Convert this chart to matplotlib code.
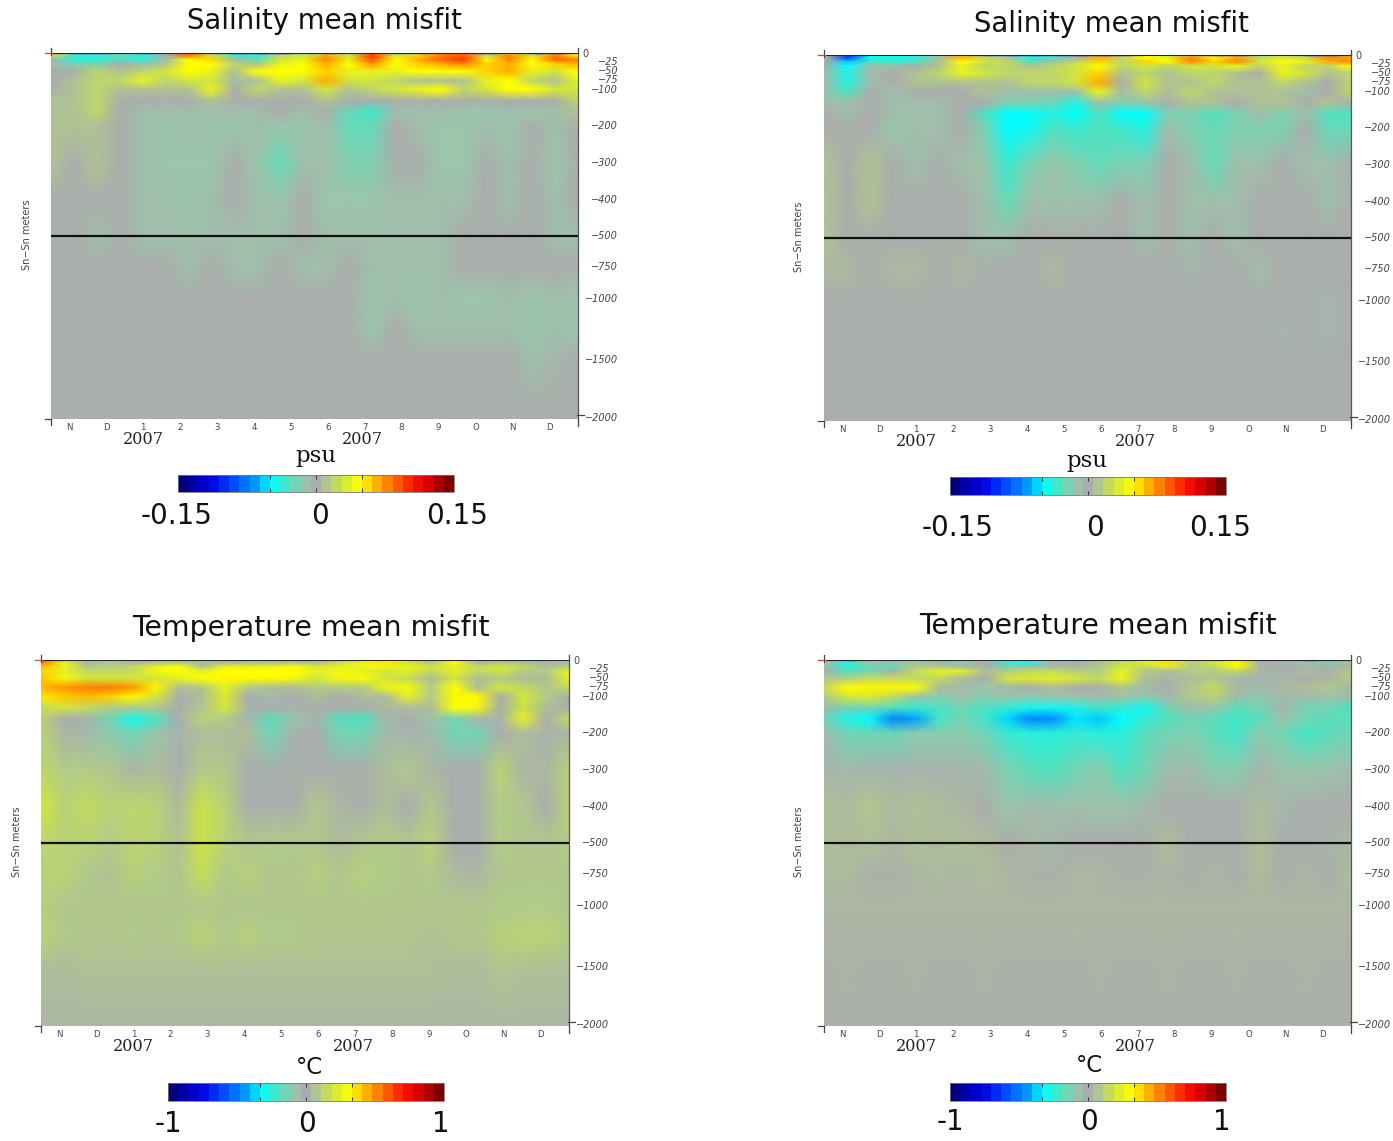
import matplotlib
matplotlib.use("Agg")
import matplotlib.pyplot as plt
import numpy as np
from matplotlib.cm import ScalarMappable
from matplotlib.colors import LinearSegmentedColormap, Normalize
from matplotlib.lines import Line2D

W, H = 1393, 1141

# Depth rows and tick labels
depth = [0, 6, 18, 30, 50, 75, 100, 130, 160, 200, 300, 400, 500, 750, 1000, 1250, 1500, 2020]
depth_ticks = [0, 25, 50, 75, 100, 200, 300, 400, 500, 750, 1000, 1500, 2000]
month_labels = ["N", "D", "1", "2", "3", "4", "5", "6", "7", "8", "9", "O", "N", "D"]

# Salinity misfit, left panel (0.01 psu)
sal_left = [
    [10, -9, -9, -6, -9, -6, 8, -8, -9, -11, -11, -5, -9, -5, 9, -6, -8, 10, 9, -9, 4, -9, -10, 3],
    [3, -3, -3, -2, -3, 0, 9, 3, -3, -3, 2, 3, 7, 3, 10, 3, 6, 8, 9, 2, 8, 3, 8, 5],
    [0, -4, -4, -3, -4, -1, 5, 6, -1, -3, 3, 4, 8, 4, 9.5, 5, 7, 9, 10, 5, 8, 5, 9, 8],
    [-1, -2, -2, 0, -1, 1, 5, 5, 2, 1, 4, 5, 7, 5, 7.5, 5, 6, 7, 8, 6, 7, 5, 6, 7],
    [0, 0, 2, 1, 2, 3, 5, 4, 1, 5, 5, 5, 6, 4, 4, 4, 5, 5, 5, 6, 7, 4, 3, 5],
    [0, 1, 2, 2, 4, 2, 3, 3, -1, 1, 4, 3, 7, 3, 3, 2, 1, 1, 1, 4, 5, 2, 1, 4],
    [0, 1, 2, 1, 1, 1, 1, 4, 0, 2, 1, 1, 3, 1, 2, 3, 4, 5, 2, 3, 5, 5, 3, 3],
    [1, 1, 2, 0, 0, 0, 0, 1, 0, 0, 0, 0, 1, 0, 0, 0, 0, 0, 0, 0, 0, 0, 0, 2],
    [1, 1, 2, 0, -1, -1, -1, -1, -1, -1, 0, -1, 0, -2.5, -3.5, -1, -1, -1, -1.5, -1.5, -1, -1.5, -1, 1],
    [1, 1, 1, 0, -1, -1.5, -1, -1.5, -1.5, -1, -1.5, -1.5, -1, -2.5, -2.5, 0, -1, -1.5, -1.5, -1, -1.5, 0, -1, 0],
    [1, 0, 1, 0, -1, -1.5, -1.5, -1.5, 0, -1.5, -2.5, -1, -1, -2, -2, 0, 0, -1.5, -1.5, 0, -1, 0, -1.5, 0],
    [0, 0, 0, 0, -1, -1, -1.5, -1, 0, -1, -1.5, 0, -1.5, -1.5, -1.5, -1, -1, -1, -1, 0, -1, 0, -1, 0],
    [0, 0, -1, 0, -1, -1, -1, -1, -1, -1, -1, 0, -1, -1, -1, -1, -1, -1, 0, 0, 0, 0, -1, -1],
    [0, 0, 0, 0, 0, 0, -1, 0, -1, -1, 0, -1, -1, 0, -1, -1, -1, -1, 0, 0, 0, 0, 0, 0],
    [0, 0, 0, 0, 0, 0, 0, 0, 0, 0, 0, 0, 0, 0, -1.5, -1, -1.5, -1, -1.5, -1.5, -1, -1.5, -1, -1.5],
    [0, 0, 0, 0, 0, 0, 0, 0, 0, 0, 0, 0, 0, 0, -1.5, 0, -1, -1, -1, -1, -1, -1.5, -1, -1.5],
    [0, 0, 0, 0, 0, 0, 0, 0, 0, 0, 0, 0, 0, 0, 0, 0, 0, 0, 0, 0, 0, -1, -0.5, 0],
    [0, 0, 0, 0, 0, 0, 0, 0, 0, 0, 0, 0, 0, 0, 0, 0, 0, 0, 0, 0, 0, 0, 0, 0],
]

# Salinity misfit, right panel (0.01 psu)
sal_right = [
    [2, -11, -5, -4, -3, -1, 6, -9, -10, -10, -8, -11, -11, -12, 6, -4, -2, -11, -11, -3, 4, -9, -10, -2],
    [1, -10, -5, -4, -4, -1, 7, 2, 1, -4, -3, 0, 7, 2, 5, 4, 8, 5, 7, 2, 3, 2, 8, 7],
    [0, -6, -3, -4, -3, 1, 5, 3, 2, -3, -1, 2, 6, 2, 6, 5, 8, 6, 8, 3, 5, 4, 7, 8],
    [0, -5, -1, -1, 0, 1, 4, 2, 2, 1, 2, 3, 5, 2, 3, 2, 3, 3, 4, 2, 4, 2, 2, 5],
    [-1, -4, -1, 0, 1, 2, 4, 3, 2, 2, 2, 3, 6, 1, 2, 1, 2, 2, 1, 0, 4, 3, 1, 2],
    [-1, -4, -1, 0, 1, 1, 1, 1, 1, 2, 2, 3, 7, 0, 3, 1, 1, 2, 1, 1, 2, 1, 0, 2],
    [-1, -3, 0, -1, 0, 0, 0, 1, -1, -1, -1, -1, 4, -1, 2, 1, 2, 1, 1, 1, 1, -1, 0, 2],
    [-1, -1, 0, -1, -1, -1, 0, 0, -2, -2, -2.5, -4, -1, -2, -1.5, 0, 1, 1, 0, 1, 1, 0, 1, 0],
    [0, -1, 0, -1, -1, -1, 0, -3, -5, -5, -4, -5, -3, -5, -5, -2, -2, -3, -2, -1, -2, -1, -3, -3],
    [0, 0, 0, -1.5, -1, -1, 0, -2, -5, -4.5, -3, -3.5, -3, -3.5, -4, -1, -2, -2.5, -2, -2, -2, 0, -2.5, -2.5],
    [1, 0, 1, 0, -1, 0, -1, -1.5, -3.5, -2, -1.5, -2, -2.5, -2, -2, 0, -1, -2.5, -1, -1, 0, -1, -1, 0],
    [1, 0, 1, 0, 0, 0, 0, -1, -2.5, -1, -1, -1, -1, 0, -1, 0, -1, -1, -1, 0, 0, 0, -1, 0],
    [1, 0, 0, 0, 0, 0, 0, -1, -1, 0, 0, 0, 0, 0, -1, 0, -1, 0, -1, 0, 0, 0, 0, 0],
    [0.5, 0.5, 0, 0.5, 0.5, 0, 0.5, 0, 0, 0, 0.5, 0, 0, 0, 0, 0, -0.5, 0, 0, -1, 0, 0, 0, 0],
    [0, 0, 0, 0, 0, 0, 0, 0, 0, 0, 0, 0, 0, 0, 0, 0, 0, 0, 0, 0, 0, 0, -0.5, 0],
    [0, 0, 0, 0, 0, 0, 0, 0, 0, 0, 0, 0, 0, 0, 0, 0, 0, 0, 0, 0, -0.5, 0, -0.5, 0],
    [0, 0, 0, 0, 0, 0, 0, 0, 0, 0, 0, 0, 0, 0, 0, 0, 0, 0, 0, 0, 0, 0, 0, 0],
    [0, 0, 0, 0, 0, 0, 0, 0, 0, 0, 0, 0, 0, 0, 0, 0, 0, 0, 0, 0, 0, 0, 0, 0],
]

# Temperature misfit, left panel (0.01 C)
temp_left = [
    [70, -5, -8, 5, -5, -8, -5, -10, -8, -5, -5, 0, -3, 0, 20, 30, 40, -15, 20, -10, -8, -5, -30, -5],
    [55, 25, -3, 8, 0, 5, 5, -5, 0, 3, 3, 3, 3, 15, 25, 38, 20, 5, 33, 0, 5, 3, -3, 5],
    [45, 28, 8, 10, 15, 25, 33, 5, 25, 25, 25, 33, 20, 25, 30, 30, 25, 20, 25, 15, 20, 15, 5, 10],
    [40, 25, 15, 15, 15, 30, 33, 25, 33, 33, 33, 33, 25, 30, 25, 20, 25, 15, 25, 15, 20, 10, 10, 25],
    [42, 30, 20, 20, 20, 20, 25, 33, 34, 34, 34, 30, 20, 30, 34, 20, 15, 5, 20, 5, 10, 5, 5, 25],
    [45, 50, 54, 55, 50, 35, 5, 8, 25, 10, 5, 5, 10, 10, 10, 28, 30, 10, 33, 5, 20, 15, 8, 15],
    [36, 42, 44, 40, 34, 20, 0, 5, 22, 0, -5, 0, 5, 0, 5, 5, 25, 10, 34, 34, 0, 20, 10, -3],
    [15, 20, 15, 10, 8, 8, 0, 8, 20, -3, 0, -3, 0, 0, 0, 3, 5, 5, 33, 30, 0, 18, 5, 0],
    [12, 0, -3, -15, -30, -20, 0, 12, 10, -3, -18, -8, -3, -18, -20, -5, 0, -8, -15, -5, -3, 25, 0, 15],
    [12, 3, -5, -12, -15, -10, -3, 5, 5, 5, -15, -3, 0, -15, -15, -5, -3, -5, -15, -15, 0, 5, -3, 3],
    [14, 10, 10, 8, 3, 5, 0, 10, 8, 0, -2, 0, 0, 0, 0, 5, 8, 3, 0, 0, 12, 3, 3, 12],
    [20, 12, 15, 12, 14, 12, 5, 18, 12, 0, 0, 0, 8, 3, 0, 5, 0, 8, 0, 0, 10, 8, 0, 12],
    [14, 12, 12, 10, 13, 12, 7, 18, 12, 8, 10, 9, 8, 5, 8, 10, 8, 12, 0, 0, 10, 8, 8, 10],
    [12, 12, 9, 7, 11, 10, 8, 16, 9, 11, 8, 8, 11, 8, 11, 10, 8, 9, 4, 3, 8, 8, 8, 8],
    [11, 8, 8, 8, 8, 8, 8, 9, 8, 8, 8, 8, 8, 8, 8, 8, 8, 8, 8, 8, 9, 10, 10, 8],
    [12, 9, 8, 8, 9, 8, 9, 12, 9, 11, 9, 9, 8, 8, 8, 8, 8, 6, 8, 8, 11, 12, 12, 10],
    [6, 5, 7, 6, 7, 6, 6, 6, 7, 6, 7, 6, 7, 6, 6, 7, 6, 6, 5, 5, 8, 7, 6, 6],
    [3, 3, 3, 3, 3, 3, 3, 3, 3, 3, 3, 3, 3, 3, 3, 3, 3, 3, 3, 3, 3, 3, 3, 3],
]

# Temperature misfit, right panel (0.01 C)
temp_right = [
    [5, -60, -5, -30, -5, -40, -5, -30, -10, -30, -5, -40, -10, -20, 20, 30, 5, -40, 30, -40, -40, -60, -50, -5],
    [5, -30, 5, -5, 5, 0, -10, 0, -25, -30, -5, 0, 5, 15, 25, 38, 10, 20, 34, 0, -5, -10, -15, 5],
    [3, -25, -15, -18, 8, 8, -5, 0, -15, -8, 3, 3, 8, 20, 15, 25, 10, 15, 34, 3, 0, -3, -3, 3],
    [0, -20, -15, 0, 15, 25, 25, 5, 10, 15, 15, 10, 10, 25, 10, 5, 10, 10, 15, 3, 0, 5, 0, 10],
    [8, 10, 15, 15, 15, 15, 5, 0, 20, 22, 25, 20, 15, 28, 5, 3, 5, 8, -5, -3, -5, 0, 3, 10],
    [15, 33, 35, 35, 32, 5, -5, -10, -5, 0, 5, 0, 0, 8, -5, 0, 8, 15, 3, -5, 3, 5, 8, -5],
    [10, 20, 22, 15, -8, -12, -8, -12, -8, -12, -8, -8, -5, -8, -12, -5, 8, 12, -5, -12, -5, -5, -8, -5],
    [-5, -15, -15, -20, -25, -20, -15, -20, -25, -30, -30, -28, -22, -25, -30, -15, -5, -10, -18, -15, -3, -15, -15, -20],
    [-15, -28, -34, -50, -45, -22, -15, -22, -38, -50, -48, -36, -40, -33, -25, -20, -15, -18, -22, -18, -8, -15, -18, -18],
    [-5, -15, -16, -16, -12, -12, -12, -15, -24, -26, -26, -24, -26, -26, -18, -15, -14, -18, -22, -12, -15, -22, -18, -15],
    [-3, -5, -3, -3, -3, -3, -3, -5, -14, -18, -20, -15, -12, -20, -15, -5, -5, -12, -12, -3, -8, -10, -8, -6],
    [6, 4, 8, 4, 6, 4, 3, 0, -10, -5, -7, -7, -8, -8, -5, 0, 0, 0, 0, 4, -4, 0, 0, 0],
    [6, 4, 6, 3, 6, 4, 6, 4, 0, 3, -4, 0, 0, 0, 0, 5, 0, 0, 0, 6, 0, 0, -3, 3],
    [4, 4, 1, 1, 3, 4, 3, 5, 3, 1, 1, 3, 3, 1, 1, 3, 0, 3, 0, 4, 0, 3, 0, 4],
    [3, 3, 3, 3, 3, 3, 3, 3, 3, 3, 3, 3, 3, 3, 3, 3, 3, 3, 3, 3, 3, 3, 3, 3],
    [2, 2, 2, 2, 2, 2, 2, 3, 2, 2, 2, 3, 2, 2, 2, 3, 2, 2, 3, 2, 2, 2, 2, 2],
    [1, 2, 1, 1, 2, 1, 1, 2, 1, 1, 1, 1, 2, 1, 1, 2, 1, 1, 2, 1, 1, 2, 1, 1],
    [1, 1, 1, 1, 1, 1, 1, 1, 1, 1, 1, 1, 1, 1, 1, 1, 1, 1, 1, 1, 1, 1, 1, 1],
]

# Jet style map with a gray centre
misfit_cmap = LinearSegmentedColormap.from_list("misfit", [
    (0.00, "#00007f"), (0.10, "#0000e0"), (0.18, "#0040ff"), (0.27, "#0098ff"),
    (0.3333, "#00ffff"), (0.40, "#50e1be"), (0.45, "#9bc6aa"), (0.50, "#aaadad"),
    (0.55, "#b2cd87"), (0.60, "#d2e63c"), (0.6667, "#ffff00"), (0.73, "#ffb000"),
    (0.80, "#ff6000"), (0.87, "#ff1000"), (0.93, "#d00000"), (1.00, "#7f0000"),
])

# Non linear depth axis, 0-500 m takes half of the height
knots_depth = [0, 500, 750, 1000, 1500, 2000, 2500]
knots_pos = [0, 500, 585, 670, 838, 995, 1166]


def forward(d):
    return np.interp(d, knots_depth, knots_pos)


def inverse(p):
    return np.interp(p, knots_pos, knots_depth)


fig = plt.figure(figsize=(W / 100, H / 100), dpi=100)


# Text and lines placed in reference pixels
def txt(x, y, s, **kw):
    fig.text(x / W, 1 - y / H, s, ha=kw.pop("ha", "center"), va=kw.pop("va", "center"), **kw)


def seg(x0, y0, x1, y1, color="#444444", lw=0.9):
    fig.add_artist(Line2D([x0 / W, x1 / W], [1 - y0 / H, 1 - y1 / H], color=color, lw=lw))


def draw_panel(values, rect, limit, title, title_size, title_xy, ylab_x, bar_rect, unit, unit_xy, unit_font, bar_labels, label_xs, label_y):
    left, top, right, bottom = rect
    ax = fig.add_axes([left / W, 1 - bottom / H, (right - left) / W, (bottom - top) / H])

    x_grid = np.linspace(0, 14.28, 24)
    data = np.array(values, dtype=float) / limit
    ax.pcolormesh(x_grid, depth, data, shading="gouraud", cmap=misfit_cmap, norm=Normalize(-1, 1))

    ax.set_yscale("function", functions=(forward, inverse))
    ax.set_xlim(0, 14.28)
    ax.set_ylim(2011, 0)
    ax.set_xticks([])
    ax.set_yticks([])
    ax.minorticks_off()
    for name in ["left", "bottom", "top"]:
        ax.spines[name].set_visible(False)
    ax.spines["right"].set_color("#555555")
    ax.spines["right"].set_linewidth(0.9)

    # Black lines at the surface and at 500 m
    ax.axhline(0, color="#222222", lw=1.4)
    ax.axhline(500, color="#111111", lw=1.6)

    # Depth labels right of the axis
    for d in depth_ticks:
        if d == 0:
            ax.annotate("0", (1, d), xycoords=("axes fraction", "data"), xytext=(3.5, -1), textcoords="offset points",
                        ha="left", va="center", fontsize=7, color="#444444")
        else:
            ax.annotate(f"\u2212{d}", (1, d), xycoords=("axes fraction", "data"), xytext=(29, 0), textcoords="offset points",
                        ha="right", va="center", fontsize=7, style="italic", color="#444444")

    # Month labels and the two year labels
    for i, m in enumerate(month_labels):
        ax.annotate(m, (i + 0.5, 0), xycoords=("data", "axes fraction"), xytext=(0, -3), textcoords="offset points",
                    ha="center", va="top", fontsize=6.2, color="#444444", annotation_clip=False)
    for m in [2.5, 8.45]:
        ax.annotate("2007", (m, 0), xycoords=("data", "axes fraction"), xytext=(0, -15), textcoords="offset points",
                    ha="center", va="center", fontsize=11.6, family="DejaVu Serif", color="#222222", annotation_clip=False)

    # Little corner marks
    seg(left, top - 5, left, top + 2)
    seg(left - 6, top, left + 1, top, color="#aa5533")
    seg(left, bottom, left, bottom + 6)
    seg(left - 6, bottom, left, bottom)
    seg(right, top - 5, right, top)
    seg(right, bottom, right, bottom + 7)
    seg(right - 1, bottom - 4, right + 6, bottom - 4)

    txt(title_xy[0], title_xy[1], title, fontsize=title_size, color="#111111")
    txt(ylab_x, top + (bottom - top) * 0.497, "Sn\u2212Sn meters", fontsize=7, rotation=90, color="#444444")

    # Colour bar
    b_left, b_top, b_right, b_bottom = bar_rect
    cax = fig.add_axes([b_left / W, 1 - b_bottom / H, (b_right - b_left) / W, (b_bottom - b_top) / H])
    sm = ScalarMappable(norm=Normalize(-1, 1), cmap=misfit_cmap.resampled(27))
    cb = fig.colorbar(sm, cax=cax, orientation="horizontal")
    cb.set_ticks([-1 / 3, 0, 1 / 3], labels=["", "", ""])
    cax.tick_params(direction="in", length=3, width=0.7, top=True, bottom=True, color="#333333")
    cb.outline.set_edgecolor("#777777")
    cb.outline.set_linewidth(0.6)

    txt(unit_xy[0], unit_xy[1], unit, fontsize=16.5, family=unit_font, color="#111111")
    for lab, lx in zip(bar_labels, label_xs):
        txt(lx, label_y, lab, fontsize=20, color="#111111")


draw_panel(sal_left, (51, 53, 578, 419), 15, "Salinity mean misfit", 19.8, (324, 21), 27,
           (178, 475, 454, 492), "psu", (316, 456), "DejaVu Serif", ["-0.15", "0", "0.15"], (177, 320, 457), 516)
draw_panel(sal_right, (824, 55, 1351, 421), 15, "Salinity mean misfit", 19.8, (1111, 24), 799,
           (950, 477, 1226, 495), "psu", (1087, 461), "DejaVu Serif", ["-0.15", "0", "0.15"], (958, 1095, 1220), 528)
draw_panel(temp_left, (41, 660, 569, 1026), 100, "Temperature mean misfit", 20.4, (311, 628), 17,
           (168, 1083, 444, 1101), "\u00b0C", (309, 1068), "DejaVu Sans", ["-1", "0", "1"], (168, 307, 441), 1124)
draw_panel(temp_right, (824, 660, 1351, 1026), 100, "Temperature mean misfit", 20.4, (1098, 626), 799,
           (950, 1083, 1226, 1101), "\u00b0C", (1089, 1065), "DejaVu Sans", ["-1", "0", "1"], (950, 1089, 1222), 1122)

fig.savefig("out.png", dpi=100)
